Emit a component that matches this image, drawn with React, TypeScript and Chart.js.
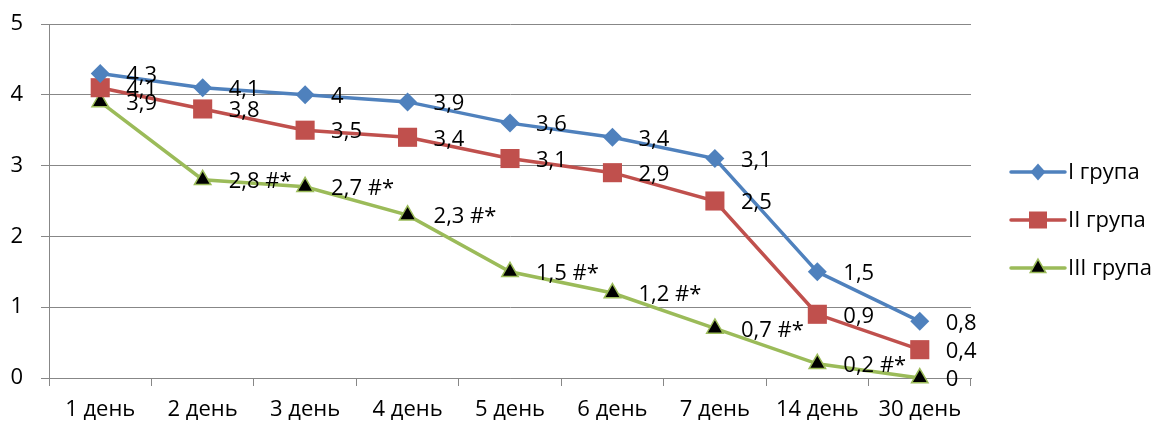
import React, { useEffect, useRef } from "react";
import { Chart, registerables } from "chart.js";

Chart.register(...registerables);

const categories = ["1 день", "2 день", "3 день", "4 день", "5 день", "6 день", "7 день", "14 день", "30 день"];
const seriesNames = ["I група", "II група", "III група"];
const group1 = [4.3, 4.1, 4.0, 3.9, 3.6, 3.4, 3.1, 1.5, 0.8];
const group2 = [4.1, 3.8, 3.5, 3.4, 3.1, 2.9, 2.5, 0.9, 0.4];
const group3 = [3.9, 2.8, 2.7, 2.3, 1.5, 1.2, 0.7, 0.2, 0.0];
const labels1 = ["4,3", "4,1", "4", "3,9", "3,6", "3,4", "3,1", "1,5", "0,8"];
const labels2 = ["4,1", "3,8", "3,5", "3,4", "3,1", "2,9", "2,5", "0,9", "0,4"];
const labels3 = ["3,9", "2,8 #*", "2,7 #*", "2,3 #*", "1,5 #*", "1,2 #*", "0,7 #*", "0,2 #*", "0"];
const yTicks = [0, 1, 2, 3, 4, 5];

const FONT = "'Open Sans'";
const FONT_SIZE = 22;
const GRID = "#878787";
const COLORS = ["#4F81BD", "#C0504D", "#9BBB59"];

function drawMarker(ctx: CanvasRenderingContext2D, kind: number, x: number, y: number) {
  ctx.save();
  ctx.beginPath();
  if (kind === 0) {
    ctx.moveTo(x, y - 8.5);
    ctx.lineTo(x + 7.5, y);
    ctx.lineTo(x, y + 8.5);
    ctx.lineTo(x - 7.5, y);
    ctx.closePath();
    ctx.fillStyle = COLORS[0];
    ctx.fill();
  } else if (kind === 1) {
    ctx.rect(x - 9, y - 8.5, 18, 17);
    ctx.fillStyle = COLORS[1];
    ctx.fill();
  } else {
    const r = 9;
    ctx.moveTo(x, y - r);
    ctx.lineTo(x + r * 0.866, y + r * 0.5);
    ctx.lineTo(x - r * 0.866, y + r * 0.5);
    ctx.closePath();
    ctx.fillStyle = "#000";
    ctx.fill();
    ctx.lineWidth = 1.5;
    ctx.strokeStyle = COLORS[2];
    ctx.stroke();
  }
  ctx.restore();
}

const labelPlugin = {
  id: "valueLabels",
  afterDatasetsDraw(chart: any) {
    const ctx = chart.ctx as CanvasRenderingContext2D;
    const all = [labels1, labels2, labels3];
    ctx.save();
    ctx.font = `${FONT_SIZE}px ${FONT}`;
    ctx.fillStyle = "#000";
    ctx.textAlign = "left";
    ctx.textBaseline = "middle";
    all.forEach((lbls, i) => {
      const meta = chart.getDatasetMeta(i);
      meta.data.forEach((pt: any, j: number) => {
        ctx.fillText(lbls[j], pt.x + 26, pt.y + 2);
      });
    });
    ctx.restore();
  },
};

const legendPlugin = {
  id: "customLegend",
  afterDraw(chart: any) {
    const ctx = chart.ctx as CanvasRenderingContext2D;
    const x0 = 1011;
    const ys = [172, 220, 268];
    ctx.save();
    seriesNames.forEach((name, i) => {
      const y = ys[i];
      ctx.beginPath();
      ctx.moveTo(x0, y);
      ctx.lineTo(x0 + 54, y);
      ctx.lineWidth = 3.5;
      ctx.strokeStyle = COLORS[i];
      ctx.lineCap = "round";
      ctx.stroke();
      drawMarker(ctx, i, x0 + 27, y);
      ctx.font = `${FONT_SIZE}px ${FONT}`;
      ctx.fillStyle = "#000";
      ctx.textAlign = "left";
      ctx.textBaseline = "middle";
      ctx.fillText(name, x0 + 57, y + 1);
    });
    ctx.restore();
  },
};

export default function App() {
  const ref = useRef<HTMLCanvasElement>(null);
  useEffect(() => {
    if (!ref.current) return;
    const chart = new Chart(ref.current, {
      type: "line",
      data: {
        labels: categories,
        datasets: [
          {
            label: seriesNames[0],
            data: group1,
            borderColor: COLORS[0],
            backgroundColor: COLORS[0],
            borderWidth: 3.5,
            pointStyle: "rectRot",
            pointRadius: 9.5,
            pointBorderWidth: 0,
            pointBackgroundColor: COLORS[0],
            tension: 0,
            clip: false as any,
          },
          {
            label: seriesNames[1],
            data: group2,
            borderColor: COLORS[1],
            backgroundColor: COLORS[1],
            borderWidth: 3.5,
            pointStyle: "rect",
            pointRadius: 13.5,
            pointBorderWidth: 0,
            pointBackgroundColor: COLORS[1],
            tension: 0,
            clip: false as any,
          },
          {
            label: seriesNames[2],
            data: group3,
            borderColor: COLORS[2],
            backgroundColor: "#000",
            borderWidth: 3.5,
            pointStyle: "triangle",
            pointRadius: 9.5,
            pointBorderWidth: 1.5,
            pointBorderColor: COLORS[2],
            pointBackgroundColor: "#000",
            tension: 0,
            clip: false as any,
          },
        ],
      },
      options: {
        animation: false,
        responsive: false,
        events: [],
        layout: { padding: { top: 24, right: 187, left: 0, bottom: 0 } },
        plugins: { legend: { display: false }, tooltip: { enabled: false } },
        scales: {
          x: {
            offset: true,
            grid: {
              display: true,
              offset: true,
              drawOnChartArea: false,
              drawTicks: true,
              tickLength: 8,
              color: GRID,
              lineWidth: 1,
            },
            border: { display: true, color: GRID, width: 1 },
            ticks: {
              color: "#000",
              font: { family: FONT, size: FONT_SIZE },
              padding: 11,
              maxRotation: 0,
              autoSkip: false,
            },
            afterFit(scale: any) {
              scale.height = 45;
              scale.paddingLeft = 0;
              scale.paddingRight = 0;
            },
          },
          y: {
            min: 0,
            max: 5,
            afterBuildTicks(scale: any) {
              scale.ticks = yTicks.map((v) => ({ value: v }));
            },
            grid: {
              color: GRID,
              lineWidth: 1,
              drawTicks: true,
              tickLength: 8,
            },
            border: { display: true, color: GRID, width: 1 },
            ticks: {
              color: "#000",
              font: { family: FONT, size: FONT_SIZE },
              padding: 18,
            },
            afterFit(scale: any) {
              scale.width = 49;
              scale.paddingTop = 0;
              scale.paddingBottom = 0;
            },
          },
        },
      },
      plugins: [labelPlugin, legendPlugin],
    });
    return () => chart.destroy();
  }, []);
  return (
    <div style={{ position: "absolute", left: 0, top: 0, width: 1158, height: 423, background: "#fff" }}>
      <canvas ref={ref} width={1158} height={423} />
    </div>
  );
}
